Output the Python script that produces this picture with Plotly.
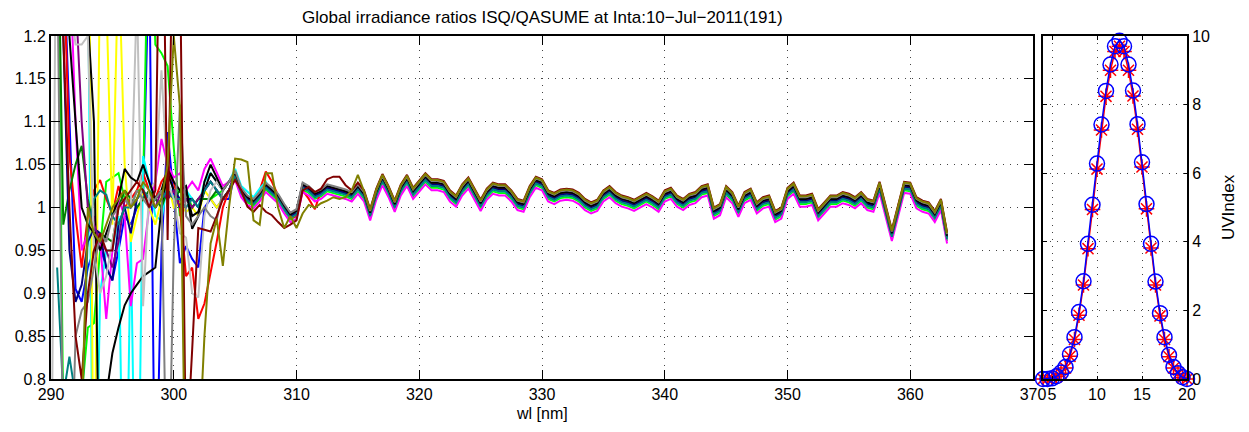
import plotly.graph_objects as go

# ---------------- data ----------------
wl_start = 290.0
wl_step = 0.5

# median ratio curve 305.0 .. 363.0 nm (0.5 nm step)
ratio_base = [
    1.040, 1.020, 1.011, 1.007, 1.015, 1.026, 1.020, 1.013, 1.001, 0.991,
    0.995, 1.026, 1.022, 1.015, 1.018, 1.024, 1.022, 1.020, 1.018, 1.015,
    1.024, 1.015, 0.993, 1.017, 1.034, 1.020, 1.003, 1.022, 1.033, 1.018,
    1.026, 1.035, 1.028, 1.028, 1.026, 1.015, 1.009, 1.022, 1.030, 1.017,
    1.004, 1.017, 1.024, 1.022, 1.022, 1.015, 1.005, 1.003, 1.020, 1.031,
    1.028, 1.015, 1.012, 1.016, 1.017, 1.016, 1.012, 1.005, 1.001, 1.004,
    1.015, 1.020, 1.013, 1.009, 1.007, 1.004, 1.008, 1.012, 1.008, 1.003,
    1.015, 1.018, 1.009, 1.005, 1.011, 1.013, 1.020, 1.022, 0.995, 0.999,
    1.020, 1.013, 0.997, 1.013, 1.017, 1.001, 1.007, 1.009, 0.991, 0.995,
    1.018, 1.024, 1.009, 1.009, 1.011, 0.993, 1.001, 1.009, 1.009, 1.013,
    1.011, 1.007, 1.013, 1.005, 1.003, 1.025, 0.997, 0.969, 0.997, 1.025,
    1.024, 1.007, 1.003, 1.001, 0.991, 1.005, 0.966,
]

# individual (noisy) starts of each spectrum from 290 nm
head_blue = [1.7, 1.5, 1.3, 1.1, 0.905, 0.89, 0.93, 0.95, 0.955, 0.93, 0.915, 0.95, 0.99, 0.98, 1.0,
             1.01, 1.3, 0.6, 0.95, 1.088, 1.01, 0.935, 0.955, 0.94, 0.93, 1.0, 1.01, 1.0, 1.01, 1.01]
head_lime = [1.6, 1.4, 0.75, 0.7, 0.72, 0.78, 0.86, 0.865, 0.95, 1.03, 1.035, 1.04, 1.01, 1.0, 1.02,
             1.02, 1.4, 1.19, 1.18, 1.165, 1.07, 0.99, 1.02, 1.0, 1.01, 1.01, 1.01, 1.015, 1.02, 1.03]
head_red = [1.6, 1.5, 1.3, 1.06, 0.99, 0.93, 0.99, 1.02, 1.032, 1.01, 0.993, 1.025, 1.0, 1.01, 1.02,
            1.04, 1.02, 1.01, 1.03, 1.04, 1.03, 1.0, 0.92, 0.93, 0.87, 0.888, 0.923, 0.96, 1.0, 1.02,
            1.035, 1.018, 1.01, 1.006, 1.02, 1.042, 1.03, 1.015, 0.998, 0.988, 0.99, 1.02, 1.01, 0.998]
head_cyan = [1.6, 1.5, 1.4, 1.3, 1.25, 1.22, 1.3, 0.5, 0.9, 0.95, 0.95, 0.99, 0.5, 0.97, 0.5,
             1.06, 1.03, 0.99, 0.985, 1.03, 1.01, 1.02, 1.02, 1.01, 1.0, 1.03, 1.04, 1.03, 1.02, 1.03,
             1.045, 1.025, 1.018, 1.012, 1.022, 1.03]
head_magenta = [1.5, 1.45, 1.4, 1.3, 1.1, 0.95, 0.97, 0.99, 0.96, 0.87, 0.95, 1.01, 0.99, 0.885, 0.935,
                0.94, 1.0, 1.03, 1.08, 1.05, 1.035, 1.04, 1.02, 1.03, 1.02, 1.045, 1.057, 1.04, 1.025, 1.03]
head_yellow = [1.6, 1.55, 1.5, 1.45, 1.4, 1.35, 1.5, 0.6, 1.3, 1.25, 0.98, 1.3, 1.05, 0.96, 0.99,
               1.02, 1.0, 0.98, 1.01, 1.03, 1.0, 1.005, 0.995, 1.0, 0.99, 1.02, 1.01, 1.0, 1.01, 1.02]
head_black = [1.6, 1.5, 1.4, 1.35, 1.3, 1.25, 1.22, 1.1, 0.6, 0.78, 0.83, 0.86, 0.886, 0.9, 0.91,
              0.92, 0.925, 0.93, 1.0, 1.04, 1.02, 1.0, 1.02, 0.99, 0.995, 1.02, 1.04, 1.03, 1.02, 1.03]
head_black2 = [1.5, 1.4, 1.3, 1.2, 1.1, 1.0, 0.98, 0.97, 0.95, 0.97, 0.99, 1.01, 1.045, 1.035, 1.03,
               1.05, 1.03, 1.01, 1.02, 1.045, 1.03, 1.02, 1.025, 0.975, 0.99, 1.03, 1.05, 1.035, 1.02, 1.03]
head_darkgreen = [1.6, 1.4, 0.98, 1.02, 1.05, 1.072, 1.01, 0.975, 0.97, 0.965, 0.96, 1.0, 1.02, 1.01, 1.0,
                  1.01, 1.02, 1.01, 1.0, 1.02, 1.01, 1.02, 1.01, 1.0, 1.01, 1.01, 1.01, 1.02, 1.01, 1.02]
head_navy = [1.8, 1.6, 1.2, 0.95, 0.89, 0.91, 0.96, 0.975, 0.97, 0.93, 0.915, 0.98, 1.0, 0.97, 1.01,
             1.02, 1.0, 1.01, 1.02, 1.01, 1.02, 1.01, 1.01, 1.01, 1.0, 1.02, 1.03, 1.02, 1.01, 1.02]
head_purple = [1.8, 1.6, 1.45, 1.3, 1.25, 1.1, 1.0, 0.98, 0.96, 0.95, 0.93, 0.96, 1.01, 1.0, 1.01,
               1.02, 1.01, 1.0, 1.02, 1.01, 1.02, 1.0, 1.01, 1.0, 1.01, 1.02, 1.03, 1.02, 1.01, 1.02]
head_teal = [None, 0.93, 0.78, 0.826, 0.78, 0.75, 0.97, 1.01, 1.02, 1.015, 0.99, 0.98, 1.0, 1.0, 1.01,
             1.02, 1.01, 1.0, 1.01, 1.02, 1.01, 1.01, 1.0, 1.01, 1.0, 1.02, 1.03, 1.02, 1.01, 1.02]
head_silver = [0.6, 1.5, 1.3, 1.25, 1.19, 1.19, 1.2, 0.95, 0.9, 0.92, 0.96, 1.0, 1.01, 1.0, 1.25,
               0.885, 1.02, 1.03, 1.16, 1.03, 1.01, 0.97, 0.965, 0.9, 0.895, 0.99, 1.02, 1.03, 1.02, 1.03]
head_gray = [1.5, 1.3, 0.7, 0.6, 0.85, 0.88, 0.89, 0.93, 0.97, 0.96, 0.99, 1.0, 1.01, 1.0, 1.02,
             1.01, 1.0, 1.01, 1.02, 0.6, 0.95, 1.12, 0.99, 0.98, 0.99, 1.0, 0.99, 0.985, 1.02, 1.03]
head_darkred = [1.6, 1.5, 1.2, 1.0, 0.85, 0.8, 0.9, 0.95, 0.97, 0.95, 0.95, 1.0, 1.01, 1.02, 1.03,
                1.02, 1.0, 1.02, 1.5, 0.962, 1.4, 1.3, 0.7, 0.834, 0.976, 0.974, 0.972, 0.99, 1.01, 1.02,
                1.032, 1.02, 1.001, 0.995, 1.003, 0.995, 0.991, 0.983, 0.976, 0.98, 0.985, 1.02,
                1.024, 1.018, 1.022, 1.033, 1.036, 1.036, 1.026]
head_olive = [0.4, 0.5, 0.6, 0.65, 0.7, 0.75, 1.0, 0.97, 0.96, 0.98, 1.0, 1.01, 1.02, 1.0, 1.01,
              1.03, 1.02, 1.0, 1.01, 1.05, 1.2, 1.118, 0.6, 0.5, 0.7, 0.85, 0.958, 0.987, 0.932, 1.0,
              1.057, 1.056, 1.053, 0.985, 0.98, 1.04, 1.04, 1.0, 0.976, 0.99, 0.976, 0.993, 1.003,
              1.0, 1.005, 1.008, 1.012, 1.01, 1.012, 1.02, 1.038]

# per-spectrum level relative to the median curve (stable part)
series_names = ["blue", "lime", "red", "cyan", "magenta", "yellow", "black", "darkgreen",
                "navy", "purple", "teal", "silver", "black2", "gray", "darkred", "olive"]
series_heads = [head_blue, head_lime, head_red, head_cyan, head_magenta, head_yellow, head_black,
                head_darkgreen, head_navy, head_purple, head_teal, head_silver, head_black2,
                head_gray, head_darkred, head_olive]
series_offsets = [0.000, -0.005, 0.002, -0.003, -0.008, -0.002, 0.000, -0.001,
                  -0.001, 0.001, -0.003, 0.002, 0.001, 0.003, 0.005, 0.004]
series_colors = ["#0000ff", "#00ff00", "#ff0000", "#00ffff", "#ff00ff", "#ffff00", "#000000",
                 "#008000", "#000080", "#800080", "#008080", "#c0c0c0", "#000000", "#808080",
                 "#800000", "#808000"]

# UV index during the day
uvi_time = [4.0, 4.5, 5.0, 5.5, 6.0, 6.5, 7.0, 7.5, 8.0, 8.5, 9.0, 9.5, 10.0, 10.5, 11.0, 11.5,
            12.0, 12.5, 13.0, 13.5, 14.0, 14.5, 15.0, 15.5, 16.0, 16.5, 17.0, 17.5, 18.0, 18.5,
            19.0, 19.5, 20.0]
uvi_qasume = [0.0, 0.0, 0.02, 0.08, 0.19, 0.35, 0.72, 1.22, 1.95, 2.85, 3.94, 5.08, 6.28, 7.42,
              8.40, 9.17, 9.70, 9.86, 9.70, 9.17, 8.41, 7.43, 6.32, 5.10, 3.94, 2.84, 1.92, 1.22,
              0.70, 0.35, 0.17, 0.05, 0.0]
uvi_isq = [0.0, 0.0, 0.02, 0.07, 0.17, 0.32, 0.66, 1.15, 1.86, 2.74, 3.80, 4.94, 6.12, 7.26,
           8.24, 9.00, 9.55, 9.70, 9.55, 9.00, 8.25, 7.28, 6.18, 4.96, 3.82, 2.74, 1.84, 1.15,
           0.65, 0.32, 0.15, 0.04, 0.0]

main_xticks = [290, 300, 310, 320, 330, 340, 350, 360, 370]
main_yticks = [0.8, 0.85, 0.9, 0.95, 1.0, 1.05, 1.1, 1.15, 1.2]
main_yticklabels = ["0.8", "0.85", "0.9", "0.95", "1", "1.05", "1.1", "1.15", "1.2"]
uvi_xticks = [5, 10, 15, 20]
uvi_yticks = [0, 2, 4, 6, 8, 10]

title_text = "Global irradiance ratios ISQ/QASUME at Inta:10\u2212Jul\u22122011(191)"

# ---------------- figure ----------------
W, H = 1249, 432
FONT = "Liberation Sans, Arial, Helvetica, sans-serif"
FS = 16
fig = go.Figure()

for name, head, off, col in zip(series_names, series_heads, series_offsets, series_colors):
    n_head = len(head)
    vals = list(head) + [round(b + off, 4) for b in ratio_base[n_head - 30:]]
    xs = [wl_start + wl_step * i for i in range(len(vals))]
    fig.add_trace(go.Scatter(x=xs, y=vals, mode="lines", name=name,
                             line=dict(color=col, width=2), connectgaps=False,
                             xaxis="x", yaxis="y", hoverinfo="skip"))

fig.add_trace(go.Scatter(x=uvi_time, y=uvi_isq, mode="lines+markers", name="ISQ",
                         line=dict(color="#ff0000", width=1.5),
                         marker=dict(symbol="asterisk-open", size=13,
                                     line=dict(color="#ff0000", width=1.5)),
                         cliponaxis=False, xaxis="x2", yaxis="y2"))
fig.add_trace(go.Scatter(x=uvi_time, y=uvi_qasume, mode="lines+markers", name="QASUME",
                         line=dict(color="#0000ff", width=1.5),
                         marker=dict(symbol="circle-open", size=15,
                                     line=dict(color="#0000ff", width=1.5)),
                         cliponaxis=False, xaxis="x2", yaxis="y2"))

x1 = [51 / W, 1033 / W]
x2 = [1043 / W, 1187 / W]
yd = [(H - 379) / H, (H - 36) / H]

axis_common = dict(showline=True, linecolor="black", linewidth=2, mirror="allticks",
                   ticks="inside", tickcolor="black", tickwidth=1.2, automargin=False,
                   showgrid=True, gridcolor="#444444", gridwidth=1, griddash="1px,6px",
                   zeroline=False, tickfont=dict(family=FONT, size=FS, color="black"))

fig.update_layout(
    width=W, height=H, margin=dict(l=0, r=0, t=0, b=0, autoexpand=False),
    paper_bgcolor="white", plot_bgcolor="white", showlegend=False,
    font=dict(family=FONT, color="black"),
    xaxis=dict(domain=x1, anchor="y", range=[290, 370], tickvals=main_xticks, ticklen=9,
               **axis_common),
    yaxis=dict(domain=yd, anchor="x", range=[0.8, 1.2], tickvals=main_yticks,
               ticktext=main_yticklabels, ticklen=9, **axis_common),
    xaxis2=dict(domain=x2, anchor="y2", range=[4, 20], tickvals=uvi_xticks, ticklen=3.5,
                **axis_common),
    yaxis2=dict(domain=yd, anchor="x2", side="right", range=[0, 10], tickvals=uvi_yticks,
                ticklen=3.5, **axis_common),
    annotations=[
        dict(text=title_text, xref="paper", yref="paper",
             x=(x1[0] + x1[1]) / 2, y=(H - 17) / H, xanchor="center", yanchor="middle",
             showarrow=False, font=dict(family=FONT, size=17, color="black")),
        dict(text="wl [nm]", xref="paper", yref="paper",
             x=(x1[0] + x1[1]) / 2, y=(H - 413) / H, xanchor="center", yanchor="middle",
             showarrow=False, font=dict(family=FONT, size=FS, color="black")),
        dict(text="UVIndex", xref="paper", yref="paper", textangle=-90,
             x=1229 / W, y=(H - 207) / H, xanchor="center", yanchor="middle",
             showarrow=False, font=dict(family=FONT, size=17, color="black")),
    ],
)

fig.write_html("out.html", config={"displayModeBar": False},
               post_script="document.body.style.margin='0px';")
